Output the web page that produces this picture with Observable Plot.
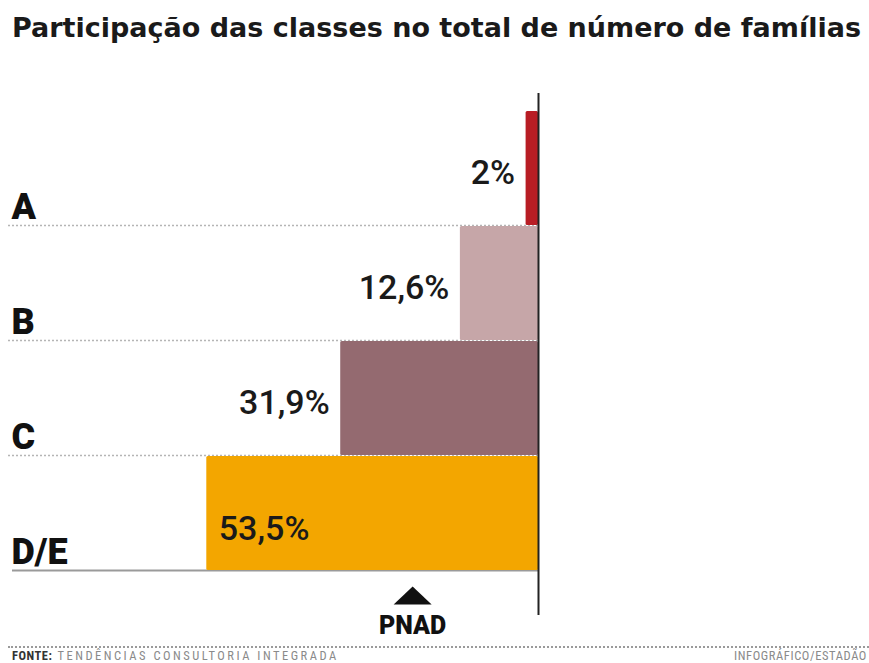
<!DOCTYPE html>
<html>
<head>
<meta charset="utf-8">
<script src="https://cdn.jsdelivr.net/npm/d3@7"></script>
<script src="https://cdn.jsdelivr.net/npm/@observablehq/plot@0.6"></script>
<style>
  html, body { margin: 0; padding: 0; background: #fff; overflow: hidden; }
  #wrap { position: relative; width: 869px; height: 663px; overflow: hidden; }
  #title { position: absolute; left: 12px; top: 14px; font-family: "DejaVu Sans", sans-serif; font-weight: 700; font-size: 27px; line-height: 1; color: #1a1a1a; white-space: nowrap; letter-spacing: 0px; }
  #chart { position: absolute; left: 0; top: 62px; }
  #rule { position: absolute; left: 8px; right: 0; top: 646px; border-top: 2px dotted #9a9a9a; }
  .foot { position: absolute; top: 650px; font-family: "Liberation Sans Narrow", "Roboto Condensed", Roboto, sans-serif; font-size: 12.5px; line-height: 1; color: #8a8a8a; white-space: nowrap; letter-spacing: 2.5px; }
  #src { left: 12px; }
  #src b { color: #333; font-weight: 700; letter-spacing: 0.5px; }
  #credit { right: 2px; letter-spacing: 0.6px; }
</style>
</head>
<body>
<div id="wrap">
  <div id="title">Participação das classes no total de número de famílias</div>
  <div id="chart"></div>
  <div id="rule"></div>
  <div class="foot" id="src"><b>FONTE:</b> TENDÊNCIAS CONSULTORIA INTEGRADA</div>
  <div class="foot" id="credit">INFOGRÁFICO/ESTADÃO</div>
</div>
<script>
const categories = ["A", "B", "C", "D/E"];
const shares = [2, 12.6, 31.9, 53.5];
const shareLabels = ["2%", "12,6%", "31,9%", "53,5%"];
const colors = ["#b81d24", "#c6a6a8", "#946a70", "#f3a600"];
const markerLabel = "PNAD";
const markerValue = 20.3;

const rows = categories.map((c, i) => ({
  cat: c, i, share: shares[i], label: shareLabels[i], color: colors[i]
}));
const separators = rows.slice(0, rows.length - 1);
const last = rows[rows.length - 1];

// flat triangle symbol
const flatTriangle = {
  draw(context, size) {
    const w = 19, h = 9;
    context.moveTo(0, -h);
    context.lineTo(w, h);
    context.lineTo(-w, h);
    context.closePath();
  }
};

const pxPerUnit = 6.2;
const chart = Plot.plot({
  width: 869,
  height: 584,
  margin: 0,
  x: { domain: [0, 538 / pxPerUnit], range: [538, 0], axis: null },
  y: { domain: [0, categories.length], range: [48, 508], axis: null },
  marks: [
    // dotted separators between rows
    Plot.ruleY(separators, {
      y: d => d.i + 1, insetLeft: 8, insetRight: 331,
      stroke: "#b5b5b5", strokeWidth: 1.5, strokeDasharray: "2,2"
    }),
    // solid baseline under the last row
    Plot.ruleY([last], {
      y: d => d.i + 1, insetLeft: 12, insetRight: 331,
      stroke: "#9a9a9a", strokeWidth: 2
    }),
    // bars
    Plot.rectX(rows, {
      x1: 0, x2: "share",
      y1: d => d.i, y2: d => d.i + 1,
      fill: "color",
      insetTop: 1, insetBottom: 0, rx: 1.5
    }),
    // vertical axis line
    Plot.ruleX([0], { stroke: "#222", strokeWidth: 2, insetTop: 31, insetBottom: 31 }),
    // category labels
    Plot.text(rows, {
      y: d => d.i + 1, text: "cat", frameAnchor: "left", dx: 11, dy: -7,
      textAnchor: "start", lineAnchor: "bottom",
      fontFamily: "Roboto, sans-serif", fontWeight: 900, fontSize: 36, fill: "#111"
    }),
    // value labels outside the bars
    Plot.text(rows.filter(d => d.share < 50), {
      x: "share", y: d => d.i + 0.5, text: "label", dx: -11, dy: 5,
      textAnchor: "end", lineAnchor: "middle",
      fontFamily: "Roboto, sans-serif", fontWeight: 500, fontSize: 34, fill: "#1a1a1a"
    }),
    // value label inside the largest bar
    Plot.text(rows.filter(d => d.share >= 50), {
      x: "share", y: d => d.i + 0.5, text: "label", dx: 12, dy: 16,
      textAnchor: "start", lineAnchor: "middle",
      fontFamily: "Roboto, sans-serif", fontWeight: 500, fontSize: 34, fill: "#1a1a1a"
    }),
    // PNAD marker
    Plot.dot([markerValue], {
      x: d => d, frameAnchor: "bottom", dy: -51,
      symbol: flatTriangle, fill: "#111", stroke: "none", r: 5
    }),
    Plot.text([markerLabel], {
      x: () => markerValue, text: d => d, frameAnchor: "bottom", dy: -21,
      lineAnchor: "middle", fontFamily: "Roboto, sans-serif", fontWeight: 900,
      fontSize: 25, fill: "#111"
    })
  ]
});
document.getElementById("chart").appendChild(chart);
</script>
</body>
</html>
